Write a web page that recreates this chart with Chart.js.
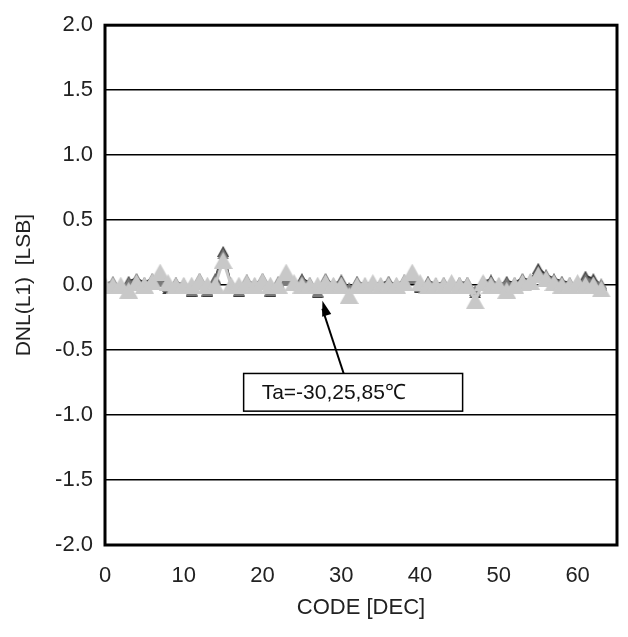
<!DOCTYPE html>
<html>
<head>
<meta charset="utf-8">
<script src="https://cdn.jsdelivr.net/npm/chart.js@4/dist/chart.umd.min.js"></script>
<style>
  html, body { margin: 0; padding: 0; background: #fff; }
  #wrap { width: 628px; height: 637px; }
</style>
</head>
<body>
<div id="wrap"><canvas id="c" width="628" height="637"></canvas></div>
<script>
// codes 0..63
const codes = Array.from({ length: 64 }, (_, i) => i)

// DNL per temperature [LSB]
const dnlM30 = [
  0.00, 0.02, -0.03, 0.03, 0.05, 0.02, 0.05, 0.06, -0.03, 0.02,
  0.00, -0.05, 0.05, -0.05, 0.05, 0.26, 0.00, -0.05, 0.04, 0.00,
  0.05, -0.05, 0.02, 0.05, 0.00, 0.05, 0.02, -0.06, 0.05, 0.00,
  0.04, -0.03, 0.03, 0.00, 0.02, 0.01, 0.03, 0.00, 0.04, 0.06,
  -0.02, 0.03, 0.01, 0.02, 0.00, 0.02, 0.02, -0.06, 0.03, 0.04,
  0.00, 0.03, 0.02, 0.05, 0.04, 0.13, 0.08, 0.05, 0.03, 0.02,
  0.00, 0.07, 0.05, 0.00,
]
const dnl25 = [
  0.01, 0.03, -0.02, 0.02, 0.04, 0.01, 0.04, 0.03, -0.01, 0.02,
  0.01, -0.04, 0.04, -0.04, 0.04, 0.24, 0.01, -0.04, 0.03, 0.01,
  0.04, -0.04, 0.03, 0.04, 0.01, 0.04, 0.01, -0.05, 0.04, 0.01,
  0.03, -0.02, 0.02, 0.01, 0.02, 0.00, 0.02, 0.01, 0.03, 0.05,
  -0.01, 0.02, 0.01, 0.01, 0.01, 0.01, 0.02, -0.04, 0.02, 0.03,
  0.01, 0.02, 0.01, 0.04, 0.03, 0.10, 0.07, 0.04, 0.02, 0.01,
  0.01, 0.05, 0.03, 0.01,
]
const dnl85 = [
  0.00, 0.00, 0.00, -0.04, 0.02, 0.00, 0.03, 0.10, 0.02, 0.00,
  0.00, 0.00, 0.03, 0.00, 0.00, 0.19, 0.00, 0.00, 0.02, 0.00,
  0.03, 0.00, 0.00, 0.10, 0.02, 0.00, 0.00, 0.00, 0.02, 0.00,
  0.00, -0.08, 0.00, 0.00, 0.02, 0.00, 0.00, 0.00, 0.02, 0.10,
  0.02, 0.00, 0.00, 0.00, 0.02, 0.00, 0.00, -0.12, 0.02, 0.00,
  0.00, -0.04, 0.00, 0.02, 0.03, 0.08, 0.05, 0.02, 0.00, 0.00,
  0.02, 0.00, 0.00, -0.03,
]

const xTicks = [0, 10, 20, 30, 40, 50, 60]
const yTicks = [-2.0, -1.5, -1.0, -0.5, 0.0, 0.5, 1.0, 1.5, 2.0]
const noteText = 'Ta=-30,25,85\u2103'

const FONT = "'Liberation Sans', Arial, sans-serif"

const pts = (vals) => vals.map((v, i) => ({ x: codes[i], y: v }))

// centred triangle marker (excel style)
function triMarker(w, h, color) {
  const cv = document.createElement('canvas')
  cv.width = w
  cv.height = h
  const c = cv.getContext('2d')
  c.fillStyle = color
  c.beginPath()
  c.moveTo(w / 2, 0)
  c.lineTo(w, h)
  c.lineTo(0, h)
  c.closePath()
  c.fill()
  return cv
}

// frame + arrow note
const framePlugin = {
  id: 'frame',
  afterDatasetsDraw(chart) {
    const { ctx, chartArea: a, scales } = chart
    const xs = scales.x
    const ys = scales.y
    ctx.save()
    ctx.strokeStyle = '#000'
    ctx.lineWidth = 3
    ctx.strokeRect(a.left, a.top, a.right - a.left, a.bottom - a.top)

    // note box
    const bx0 = xs.getPixelForValue(17.6)
    const bx1 = xs.getPixelForValue(45.4)
    const by0 = ys.getPixelForValue(-0.68)
    const by1 = ys.getPixelForValue(-0.97)
    ctx.fillStyle = '#fff'
    ctx.fillRect(bx0, by0, bx1 - bx0, by1 - by0)
    ctx.lineWidth = 1.5
    ctx.strokeRect(bx0, by0, bx1 - bx0, by1 - by0)
    ctx.fillStyle = '#111'
    ctx.font = '21px ' + FONT
    ctx.textBaseline = 'middle'
    ctx.fillText(noteText, bx0 + 18, (by0 + by1) / 2 + 1)

    // arrow
    const sx = xs.getPixelForValue(30.3)
    const sy = by0
    const tx = xs.getPixelForValue(27.6)
    const ty = ys.getPixelForValue(-0.12)
    ctx.lineWidth = 2
    ctx.beginPath()
    ctx.moveTo(sx, sy)
    ctx.lineTo(tx, ty + 8)
    ctx.stroke()
    const ang = Math.atan2(ty - sy, tx - sx)
    ctx.beginPath()
    ctx.moveTo(tx, ty)
    ctx.lineTo(tx - 16 * Math.cos(ang - 0.3), ty - 16 * Math.sin(ang - 0.3))
    ctx.lineTo(tx - 16 * Math.cos(ang + 0.3), ty - 16 * Math.sin(ang + 0.3))
    ctx.closePath()
    ctx.fillStyle = '#000'
    ctx.fill()
    ctx.restore()
  },
}

const ctx = document.getElementById('c').getContext('2d')
new Chart(ctx, {
  type: 'line',
  plugins: [framePlugin],
  data: {
    datasets: [
      {
        label: '-30',
        data: pts(dnlM30),
        borderColor: '#333',
        borderWidth: 2,
        pointStyle: triMarker(12, 11, '#3c3c3c'),
        order: 3,
      },
      {
        label: '25',
        data: pts(dnl25),
        borderColor: '#6e6e6e',
        borderWidth: 2,
        pointStyle: triMarker(12, 11, '#7a7a7a'),
        order: 2,
      },
      {
        label: '85',
        data: pts(dnl85),
        borderColor: '#c8c8c8',
        borderWidth: 3,
        pointStyle: triMarker(19, 17, '#c8c8c8'),
        order: 1,
      },
    ],
  },
  options: {
    responsive: false,
    animation: false,
    layout: { padding: { left: 12, right: 11, top: 20, bottom: 16 } },
    plugins: {
      legend: { display: false },
      tooltip: { enabled: false },
    },
    scales: {
      x: {
        type: 'linear',
        min: 0,
        max: 65,
        afterBuildTicks(s) {
          s.ticks = xTicks.map((v) => ({ value: v }))
        },
        border: { display: false },
        grid: { display: false, drawTicks: false },
        ticks: {
          padding: 18,
          color: '#222',
          font: { family: FONT, size: 22 },
        },
        title: {
          display: true,
          text: 'CODE [DEC]',
          color: '#222',
          padding: { top: 0, bottom: 0 },
          font: { family: FONT, size: 22 },
        },
        afterFit(s) {
          s.height = 76
        },
      },
      y: {
        min: -2,
        max: 2,
        afterBuildTicks(s) {
          s.ticks = yTicks.map((v) => ({ value: v }))
        },
        border: { display: false },
        grid: { color: '#000', lineWidth: 1.5, drawTicks: false },
        ticks: {
          padding: 12,
          color: '#222',
          font: { family: FONT, size: 22 },
          callback: (v) => Number(v).toFixed(1),
        },
        title: {
          display: true,
          text: 'DNL(L1)  [LSB]',
          color: '#222',
          padding: { top: 0, bottom: 0 },
          font: { family: FONT, size: 21 },
        },
        afterFit(s) {
          s.width = 93
        },
      },
    },
  },
})
</script>
</body>
</html>
